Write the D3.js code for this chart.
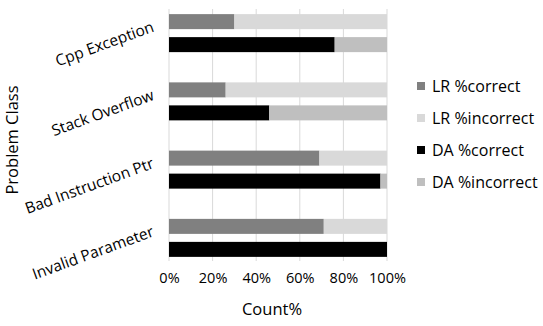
<!DOCTYPE html>
<html>
<head>
<meta charset="utf-8">
<script src="https://cdn.jsdelivr.net/npm/d3@7"></script>
<style>
  body { margin: 0; background: #fff; }
  text { font-family: "Open Sans", "Liberation Sans", sans-serif; fill: #000; }
</style>
</head>
<body>
<div id="chart"></div>
<script>
// Chart data
var categories = ["Cpp Exception", "Stack Overflow", "Bad Instruction Ptr", "Invalid Parameter"];
var lrCorrect = [30, 26, 69, 71];
var daCorrect = [76, 46, 97, 100];
var xTicks = [0, 20, 40, 60, 80, 100];
var seriesNames = ["LR %correct", "LR %incorrect", "DA %correct", "DA %incorrect"];
var seriesColors = ["#808080", "#d9d9d9", "#000000", "#bfbfbf"];

var svgWidth = 543;
var svgHeight = 326;

var svg = d3.select("#chart")
  .append("svg")
  .attr("width", svgWidth)
  .attr("height", svgHeight);

// plot area
var plotLeft = 169, plotRight = 387;
var plotTop = 9, plotBottom = 261;

var x = d3.scaleLinear()
  .domain([0, 100])
  .range([plotLeft, plotRight]);

// category bands (the centers line up with the bar pairs)
var y = d3.scaleBand()
  .domain(categories)
  .range([-1, 272]);

// bars inside a band: LR on top, DA below
var barH = 15;
var barGap = 8;

// gridlines
svg.append("g")
  .selectAll("line")
  .data(xTicks)
  .enter()
  .append("line")
  .attr("x1", d => x(d))
  .attr("x2", d => x(d))
  .attr("y1", plotTop)
  .attr("y2", plotBottom)
  .attr("stroke", "#d9d9d9")
  .attr("stroke-width", 1);

// build stacked rows
var rows = [];
categories.forEach(function (c, i) {
  var mid = y(c) + y.bandwidth() / 2;
  rows.push({ cat: c, y: mid - barGap / 2 - barH, a: lrCorrect[i], ca: seriesColors[0], cb: seriesColors[1] });
  rows.push({ cat: c, y: mid + barGap / 2, a: daCorrect[i], ca: seriesColors[2], cb: seriesColors[3] });
});

var barGroup = svg.append("g");
rows.forEach(function (r) {
  barGroup.append("rect")
    .attr("x", x(0))
    .attr("y", r.y)
    .attr("width", x(r.a) - x(0))
    .attr("height", barH)
    .attr("fill", r.ca);
  barGroup.append("rect")
    .attr("x", x(r.a))
    .attr("y", r.y)
    .attr("width", x(100) - x(r.a))
    .attr("height", barH)
    .attr("fill", r.cb);
});

// x axis tick labels
var xAxis = d3.axisBottom(x)
  .tickValues(xTicks)
  .tickFormat(d => d + "%")
  .tickSize(0)
  .tickPadding(0);

var xg = svg.append("g")
  .attr("transform", `translate(0, ${plotBottom + 12})`)
  .call(xAxis);
xg.select(".domain").remove();
xg.selectAll("text")
  .style("font-size", "14.5px")
  .style("font-family", "'Open Sans', sans-serif")
  .attr("fill", "#000");

// category labels, rotated
svg.append("g")
  .selectAll("text")
  .data(categories)
  .enter()
  .append("text")
  .attr("transform", d => `translate(155, ${y(d) + y.bandwidth() / 2 - 2}) rotate(-20)`)
  .attr("text-anchor", "end")
  .style("font-size", "15.5px")
  .text(d => d);

// axis titles
svg.append("text")
  .attr("x", 272)
  .attr("y", 315)
  .attr("text-anchor", "middle")
  .style("font-size", "16.5px")
  .text("Count%");

svg.append("text")
  .attr("transform", "translate(18, 140) rotate(-90)")
  .attr("text-anchor", "middle")
  .style("font-size", "16.5px")
  .text("Problem Class");

// legend
var legend = svg.append("g")
  .selectAll("g")
  .data(seriesNames)
  .enter()
  .append("g")
  .attr("transform", (d, i) => `translate(417, ${86 + i * 32})`);

legend.append("rect")
  .attr("x", 0)
  .attr("y", -4)
  .attr("width", 8)
  .attr("height", 8)
  .attr("fill", (d, i) => seriesColors[i]);

legend.append("text")
  .attr("x", 15)
  .attr("y", 6)
  .style("font-size", "16px")
  .text(d => d);
</script>
</body>
</html>
